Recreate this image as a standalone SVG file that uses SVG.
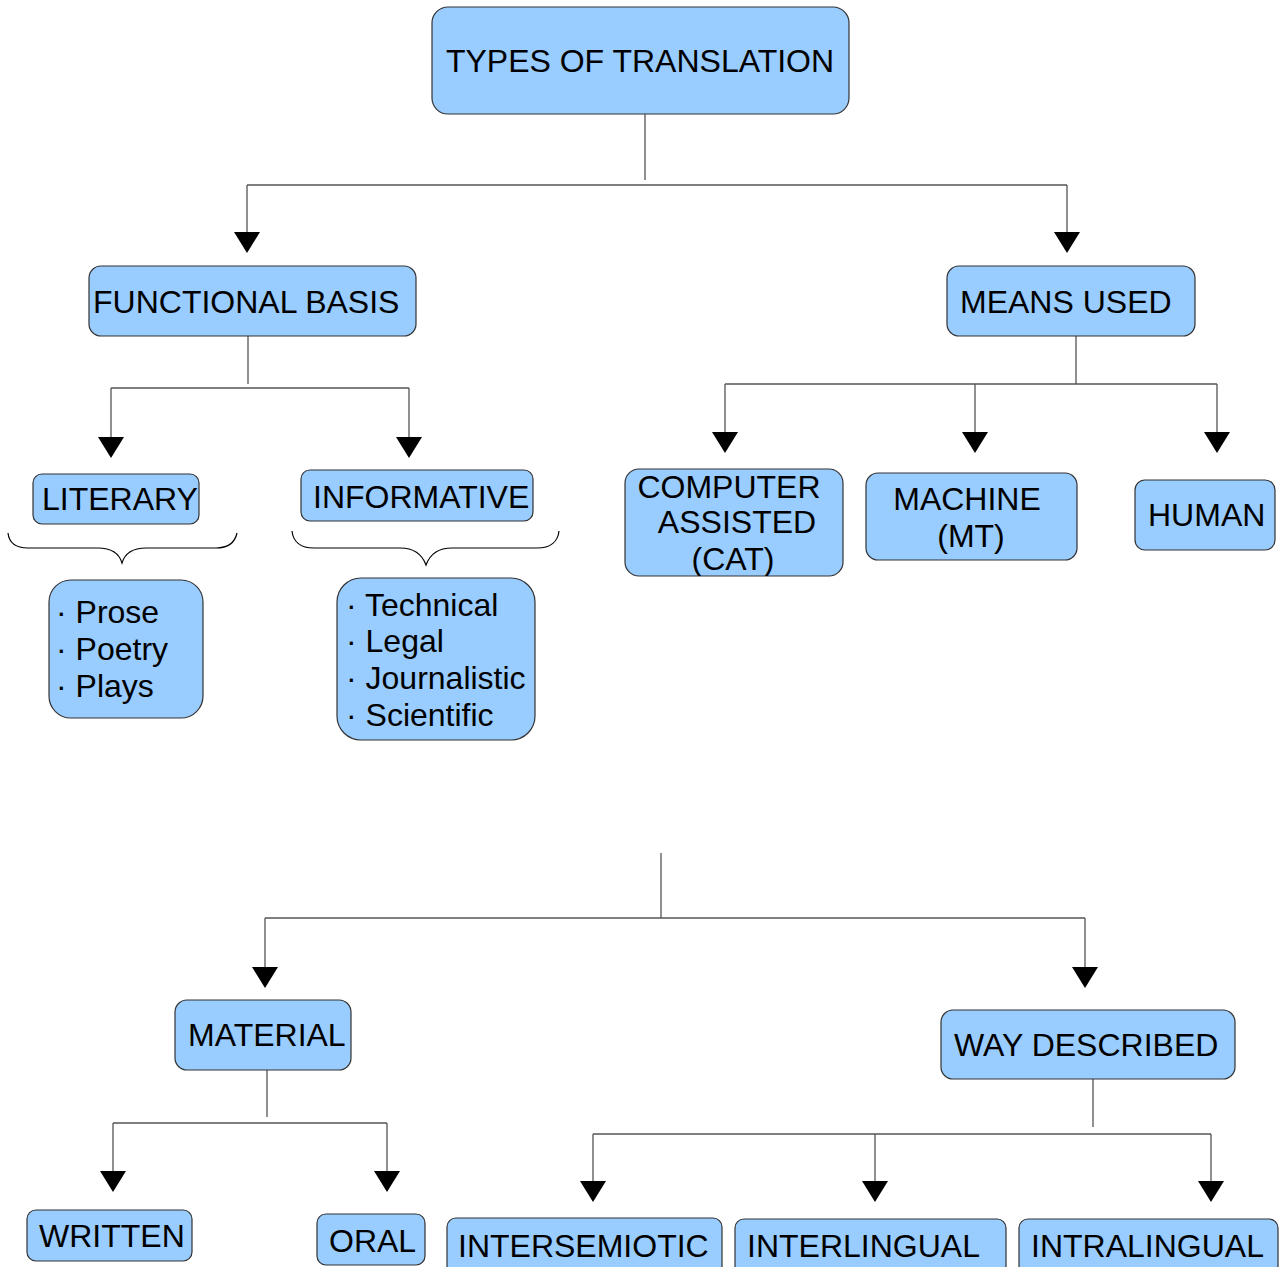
<svg xmlns="http://www.w3.org/2000/svg" width="1281" height="1267" viewBox="0 0 1281 1267">
  <style>
    .box { fill: #99ccff; stroke: #333333; stroke-width: 1.2; }
    .lbl { font-family: "Liberation Sans", Arial, sans-serif; font-size: 32px; fill: #000000; }
    .mid { text-anchor: middle; }
    .wire { fill: none; stroke: #555555; stroke-width: 1.3; }
    .brace { fill: none; stroke: #000000; stroke-width: 1.2; }
    .head { fill: #000000; }
  </style>
  <defs>
    <!-- downward arrowhead, tip at the origin -->
    <polygon id="arrow" class="head" points="-13,-21 13,-21 0,0"/>
    <clipPath id="clipCat">
      <rect x="625" y="469" width="218" height="107" rx="14"/>
    </clipPath>
  </defs>
  <rect width="1281" height="1267" fill="#ffffff"/>

  <!-- connectors -->
  <g id="connectors">
    <!-- root to first level -->
    <path class="wire" d="M645 114V180M247 185H1067M247 185V235M1067 185V235"/>
    <use href="#arrow" x="247" y="253"/>
    <use href="#arrow" x="1067" y="253"/>
    <!-- functional basis -->
    <path class="wire" d="M248 336V384M111 388H409M111 388V440M409 388V440"/>
    <use href="#arrow" x="111" y="458"/>
    <use href="#arrow" x="409" y="458"/>
    <!-- means used -->
    <path class="wire" d="M1076 336V384M725 384H1217M725 384V435M975 384V435M1217 384V435"/>
    <use href="#arrow" x="725" y="453"/>
    <use href="#arrow" x="975" y="453"/>
    <use href="#arrow" x="1217" y="453"/>
    <!-- braces -->
    <path class="brace" d="M8 533C9 542 15 548 28 548H98C112 548 119 553 122 563C125 553 132 548 146 548H216C229 548 235 542 237 533"/>
    <path class="brace" d="M292 531C293 541 300 548 314 548H400C414 548 422 554 426 565C430 554 438 548 452 548H537C551 548 558 541 559 531"/>
    <!-- lower tree -->
    <path class="wire" d="M661 853V918M265 918H1085M265 918V970M1085 918V970"/>
    <use href="#arrow" x="265" y="988"/>
    <use href="#arrow" x="1085" y="988"/>
    <!-- material -->
    <path class="wire" d="M267 1070V1117M113 1123H387M113 1123V1174M387 1123V1174"/>
    <use href="#arrow" x="113" y="1192"/>
    <use href="#arrow" x="387" y="1192"/>
    <!-- way described -->
    <path class="wire" d="M1093 1079V1127M593 1134H1211M593 1134V1184M875 1134V1184M1211 1134V1184"/>
    <use href="#arrow" x="593" y="1202"/>
    <use href="#arrow" x="875" y="1202"/>
    <use href="#arrow" x="1211" y="1202"/>
  </g>

  <g id="types">
    <rect class="box" x="432" y="7" width="417" height="107" rx="16"/>
    <text class="lbl mid" x="640" y="72">TYPES OF TRANSLATION</text>
  </g>

  <g id="functional">
    <rect class="box" x="89" y="266" width="327" height="70" rx="12"/>
    <text class="lbl" x="93" y="313">FUNCTIONAL BASIS</text>
  </g>

  <g id="means">
    <rect class="box" x="947" y="266" width="248" height="70" rx="12"/>
    <text class="lbl" x="960" y="313">MEANS USED</text>
  </g>

  <g id="literary">
    <rect class="box" x="33" y="474" width="166" height="50" rx="9"/>
    <text class="lbl" x="42" y="510">LITERARY</text>
  </g>

  <g id="informative">
    <rect class="box" x="301" y="470" width="232" height="51" rx="9"/>
    <text class="lbl" x="313" y="508">INFORMATIVE</text>
  </g>

  <g id="literary-list">
    <rect class="box" x="49" y="580" width="154" height="138" rx="22"/>
    <text class="lbl" x="56" y="623">· Prose</text>
    <text class="lbl" x="56" y="660">· Poetry</text>
    <text class="lbl" x="56" y="697">· Plays</text>
  </g>

  <g id="informative-list">
    <rect class="box" x="337" y="578" width="198" height="162" rx="24"/>
    <text class="lbl" x="346" y="616">· Technical</text>
    <text class="lbl" x="346" y="652">· Legal</text>
    <text class="lbl" x="346" y="689">· Journalistic</text>
    <text class="lbl" x="346" y="726">· Scientific</text>
  </g>

  <g id="cat">
    <rect class="box" x="625" y="469" width="218" height="107" rx="14"/>
    <g clip-path="url(#clipCat)">
      <text class="lbl mid" x="729" y="498">COMPUTER</text>
      <text class="lbl mid" x="737" y="533">ASSISTED</text>
      <text class="lbl mid" x="733" y="570">(CAT)</text>
    </g>
  </g>

  <g id="machine">
    <rect class="box" x="866" y="473" width="211" height="87" rx="12"/>
    <text class="lbl mid" x="967" y="510">MACHINE</text>
    <text class="lbl mid" x="971" y="547">(MT)</text>
  </g>

  <g id="human">
    <rect class="box" x="1135" y="480" width="140" height="70" rx="10"/>
    <text class="lbl" x="1148" y="526">HUMAN</text>
  </g>

  <g id="material">
    <rect class="box" x="175" y="1000" width="176" height="70" rx="12"/>
    <text class="lbl" x="188" y="1046">MATERIAL</text>
  </g>

  <g id="way">
    <rect class="box" x="941" y="1010" width="294" height="69" rx="12"/>
    <text class="lbl" x="954" y="1056">WAY DESCRIBED</text>
  </g>

  <g id="written">
    <rect class="box" x="27" y="1210" width="165" height="51" rx="9"/>
    <text class="lbl" x="39" y="1247">WRITTEN</text>
  </g>

  <g id="oral">
    <rect class="box" x="317" y="1214" width="108" height="51" rx="9"/>
    <text class="lbl" x="329" y="1252">ORAL</text>
  </g>

  <g id="intersemiotic">
    <rect class="box" x="447" y="1218" width="275" height="60" rx="9"/>
    <text class="lbl" x="458" y="1257">INTERSEMIOTIC</text>
  </g>

  <g id="interlingual">
    <rect class="box" x="735" y="1219" width="271" height="60" rx="9"/>
    <text class="lbl" x="747" y="1257">INTERLINGUAL</text>
  </g>

  <g id="intralingual">
    <rect class="box" x="1019" y="1219" width="259" height="60" rx="9"/>
    <text class="lbl" x="1031" y="1257">INTRALINGUAL</text>
  </g>
</svg>
